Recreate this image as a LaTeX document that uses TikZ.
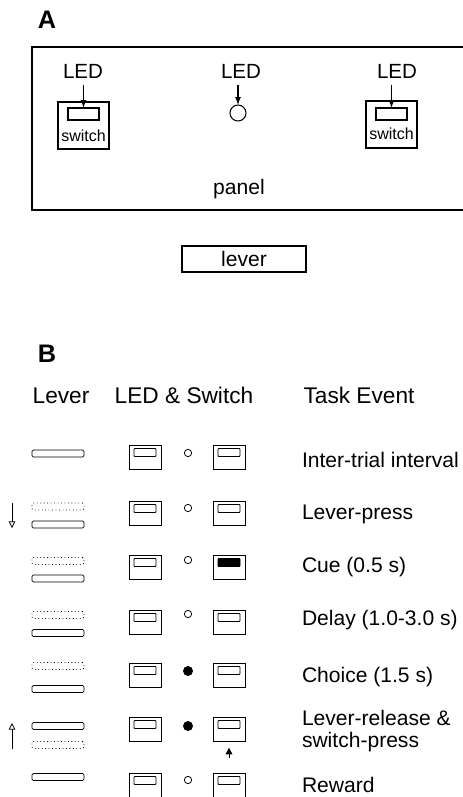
\documentclass[tikz,border=0pt]{standalone}
\usepackage{fontspec}
\setmainfont{Liberation Sans}
\usetikzlibrary{arrows.meta}
\newcommand\swrow[5]{%
  \node[sbox, anchor=north] (b#1l) at (145,#2) {};
  \node[sinner, anchor=north] (i#1l) at (145,#2+3.5) {};
  \node[#4] (c#1) at (188,#3) {};
  \node[sbox, anchor=north] (b#1r) at (229,#2) {};
  \node[sinner, #5, anchor=north] (i#1r) at (229,#2+3.5) {};
}
\begin{document}
\begin{tikzpicture}[x=0.75pt,y=-0.75pt,
  every node/.style={inner sep=0pt, outer sep=0pt},
  titlefont/.style={font=\fontsize{19pt}{22pt}\selectfont\bfseries},
  ledfont/.style={font=\fontsize{15.4pt}{18pt}\selectfont},
  swfont/.style={font=\fontsize{12pt}{14pt}\selectfont},
  bigfont/.style={font=\fontsize{15.8pt}{18pt}\selectfont},
  headfont/.style={font=\fontsize{17pt}{20pt}\selectfont},
  evt/.style={anchor=base west, font=\fontsize{15.8pt}{18pt}\selectfont},
  bigbox/.style={draw, line width=0.8pt, minimum width=38.25pt, minimum height=35.25pt},
  biginner/.style={draw, line width=0.8pt, minimum width=23.25pt, minimum height=9pt},
  sbox/.style={draw, line width=0.7pt, minimum width=24pt, minimum height=18pt},
  sinner/.style={draw, line width=0.6pt, rounded corners=0.6pt, minimum width=16.5pt, minimum height=6pt},
  ledoff/.style={circle, draw, line width=0.6pt, minimum size=5.5pt},
  ledon/.style={circle, fill=black, minimum size=7.5pt},
  litfill/.style={fill=black},
  nofill/.style={},
  leverbar/.style={draw, line width=0.6pt, rounded corners=1pt, minimum width=39pt, minimum height=5.25pt},
  leverdot/.style={leverbar, dotted},
  arrA/.style={-{Latex[length=6pt,width=4.5pt]}, line width=0.8pt, shorten <=5pt},
  openarr/.style={-{Triangle[open,length=5pt,width=5pt]}, line width=0.6pt},
]
\useasboundingbox (0,0) rectangle (463,797);
\clip (0,0) rectangle (463,797);

% ---------- Panel A ----------
\node[titlefont, anchor=base] (labA) at (47,28) {A};
\node[draw, line width=0.9pt, anchor=north west, minimum width=345pt, minimum height=122.25pt] (panel) at (32,47) {};
\node[bigfont, anchor=base] (panellab) at (239,194) {panel};

\node[bigbox, anchor=north west] (swL) at (58,102) {};
\node[biginner, anchor=north west] (inL) at (68,108) {};
\node[swfont, anchor=base] (swLt) at (83.5,141) {switch};

\node[bigbox, anchor=north west] (swR) at (366,101) {};
\node[biginner, anchor=north west] (inR) at (376,108) {};
\node[swfont, anchor=base] (swRt) at (391.5,139) {switch};

\node[circle, draw, line width=0.8pt, minimum size=12pt] (ledM) at (238,113) {};

\node[ledfont, anchor=base] (ledLt) at (83,78) {LED};
\node[ledfont, anchor=base] (ledMt) at (241,78) {LED};
\node[ledfont, anchor=base] (ledRt) at (397,78) {LED};

\draw[arrA] (ledLt.south -| inL.north) -- (inL.north);
\draw[arrA] (ledMt.south -| ledM.north) -- (ledM.north);
\draw[arrA] (ledRt.south -| inR.north) -- (inR.north);

\node[draw, line width=0.8pt, anchor=north west, minimum width=93pt, minimum height=19.5pt] (lever) at (182,246) {};
\node[bigfont, anchor=base] (leverlab) at (244,266) {lever};

% ---------- Panel B ----------
\node[titlefont, anchor=base] (labB) at (47,362) {B};
\node[headfont, anchor=base] (hLever) at (61,403) {Lever};
\node[headfont, anchor=base] (hLED) at (184,403) {LED \& Switch};
\node[headfont, anchor=base] (hTask) at (359,403) {Task Event};

% row 1: inter-trial interval
\node[leverbar] (l1s) at (58,453.5) {};
\swrow{1}{445}{453}{ledoff}{nofill}
\node[evt] (t1) at (302,467) {Inter-trial interval};

% row 2: lever-press
\node[leverdot] (l2d) at (58,506.5) {};
\node[leverbar] (l2s) at (58,524.5) {};
\swrow{2}{501}{508}{ledoff}{nofill}
\node[evt] (t2) at (302,519) {Lever-press};
\coordinate (d1) at (12,503);
\coordinate (d2) at (12,528);
\draw[openarr] (d1) -- (d2);

% row 3: cue
\node[leverdot] (l3d) at (58,561) {};
\node[leverbar] (l3s) at (58,578.5) {};
\swrow{3}{555}{560}{ledoff}{litfill}
\node[evt] (t3) at (302,572) {Cue (0.5 s)};

% row 4: delay
\node[leverdot] (l4d) at (58,615) {};
\node[leverbar] (l4s) at (58,633) {};
\swrow{4}{610}{614}{ledoff}{nofill}
\node[evt] (t4) at (302,625) {Delay (1.0-3.0 s)};

% row 5: choice
\node[leverdot] (l5d) at (58,666) {};
\node[leverbar] (l5s) at (58,689) {};
\swrow{5}{663}{671}{ledon}{nofill}
\node[evt] (t5) at (302,682) {Choice (1.5 s)};

% row 6: lever-release & switch-press
\node[leverbar] (l6s) at (58,726) {};
\node[leverdot] (l6d) at (58,745) {};
\swrow{6}{717}{726}{ledon}{nofill}
\node[anchor=north west, align=left, font=\fontsize{15.8pt}{16.5pt}\selectfont] (t6) at (302,710) {Lever-release \&\\switch-press};
\coordinate (u1) at (12,749);
\coordinate (u2) at (12,723);
\draw[openarr] (u1) -- (u2);
\coordinate (p1) at (229,758);
\draw[-{Triangle[length=5pt,width=5pt]}, line width=0.7pt, shorten >=5pt] (p1) -- (b6r.south);

% row 7: reward
\node[leverbar] (l7s) at (58,777) {};
\swrow{7}{773}{780}{ledoff}{nofill}
\node[evt] (t7) at (302,792) {Reward};
\end{tikzpicture}
\end{document}
